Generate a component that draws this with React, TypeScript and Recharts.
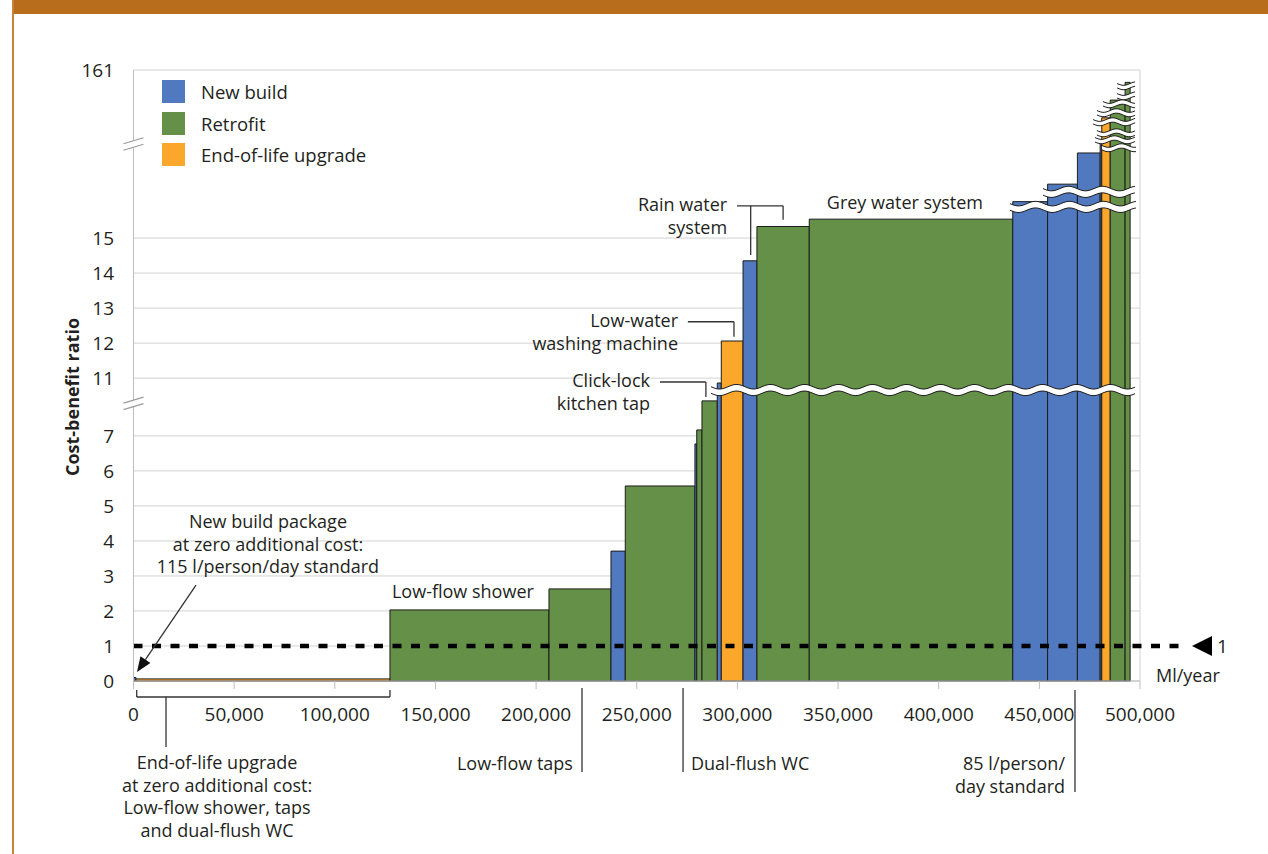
import React from 'react';
import { ComposedChart, XAxis, YAxis, CartesianGrid, ReferenceArea, ReferenceLine, ReferenceDot, Legend } from 'recharts';

const BLUE = '#5079C0';
const GREEN = '#659048';
const ORANGE = '#FBA72C';
const EDGE = '#1c1c1c';
const GRID = '#d2d2d2';
const AXIS = '#bdbdbd';
const INK = '#231f20';
const FONT = '"Open Sans", "Noto Sans", sans-serif';

// measures in cost-curve order
const measureType = ['new', 'eol', 'retro', 'retro', 'new', 'retro', 'new', 'retro', 'retro', 'new', 'eol', 'new', 'retro', 'retro', 'new', 'new', 'new', 'new', 'eol', 'retro', 'retro'];
const measureSaving = [1200, 126200, 79000, 30800, 7100, 34600, 900, 2600, 7600, 2000, 10800, 6900, 26000, 101100, 17300, 14800, 11300, 800, 4200, 7400, 2500];
const measureRatio = [0.1, 0.06, 2.03, 2.63, 3.71, 5.57, 6.77, 7.17, 8.0, 10.86, 12.06, 14.35, 15.33, 15.54, 16.04, 16.54, 17.43, 31, 72, 105, 138];
const typeColor: Record<string, string> = { new: BLUE, retro: GREEN, eol: ORANGE };

const legendNames = ['New build', 'Retrofit', 'End-of-life upgrade'];
const legendColors = [BLUE, GREEN, ORANGE];

const xTicks = [0, 50000, 100000, 150000, 200000, 250000, 300000, 350000, 400000, 450000, 500000];
const yTickValues = [0, 1, 2, 3, 4, 5, 6, 7, 11, 12, 13, 14, 15, 161];

// broken y scale: real value -> drawn position
const scaleRealKnots = [0, 8, 10.35, 17.6, 161];
const scaleDispKnots = [0, 8, 8, 15.25, 17.45];

// wavy breaks drawn across the tall bars
const breakLevel = [10.66, 15.89, 16.32, 17.58, 31.1, 44.1, 64.6, 81.4, 98.1, 113.0, 131.7];
const breakFrom = [286900, 435400, 451800, 481100, 477600, 478600, 476700, 478600, 481600, 488600, 488600];
const breakTo = 498000;
const axisBreakAt = [7.92, 22.8];

// annotations
const noteText = [
  ['New build package', 'at zero additional cost:', '115 l/person/day standard'],
  ['Low-flow shower'],
  ['Rain water', 'system'],
  ['Grey water system'],
  ['Low-water', 'washing machine'],
  ['Click-lock', 'kitchen tap'],
  ['End-of-life upgrade', 'at zero additional cost:', 'Low-flow shower, taps', 'and dual-flush WC'],
  ['Low-flow taps'],
  ['Dual-flush WC'],
  ['85 l/person/', 'day standard'],
  ['Ml/year'],
];
const noteX = [66800, 128400, 294900, 383200, 270500, 256600, 41500, 218300, 276950, 462750, 523800];
const noteY = [4.54, 2.54, 15.95, 16.0, 12.64, 10.92, -2.343, -2.371, -2.371, -2.371, 0.143];
const noteAnchor = ['middle', 'start', 'end', 'middle', 'end', 'end', 'middle', 'end', 'start', 'end', 'middle'];

const leaders = [
  [299800, 15.92, 322700, 15.92], [306600, 15.92, 306600, 14.52], [322700, 15.92, 322700, 15.52],
  [275400, 12.61, 298300, 12.61], [298300, 12.61, 298300, 12.18],
  [261550, 10.89, 284350, 10.89], [284350, 10.89, 284350, 10.46],
  [1600, -0.457, 127400, -0.457], [1600, -0.457, 1600, -0.257], [127400, -0.457, 127400, -0.257], [16150, -0.457, 16150, -1.886],
  [222800, -0.2, 222800, -2.6],
  [273000, -0.2, 273000, -2.6],
  [467700, -0.257, 467700, -3.171],
];
const arrowFrom = [31050, 2.74];
const arrowTo = [1740, 0.257];
const threshold = 1;
const thresholdEnd = 522000;
const thresholdMarkX = 530800;

const toDisplay = (v: number) => {
  if (v <= scaleRealKnots[0]) return v;
  for (let i = 1; i < scaleRealKnots.length; i++) {
    if (v <= scaleRealKnots[i]) {
      const r0 = scaleRealKnots[i - 1], r1 = scaleRealKnots[i];
      const d0 = scaleDispKnots[i - 1], d1 = scaleDispKnots[i];
      return d0 + ((v - r0) / (r1 - r0)) * (d1 - d0);
    }
  }
  const n = scaleRealKnots.length - 1;
  return scaleDispKnots[n] + ((v - scaleRealKnots[n]) * (scaleDispKnots[n] - scaleDispKnots[n - 1])) / (scaleRealKnots[n] - scaleRealKnots[n - 1]);
};

const yTickDisplay = yTickValues.map(toDisplay);

const bars: { start: number; end: number; top: number; color: string }[] = [];
measureSaving.forEach((s, i) => {
  const start = i ? bars[i - 1].end : 0;
  bars.push({ start, end: start + s, top: toDisplay(measureRatio[i]), color: typeColor[measureType[i]] });
});

// white zig-zag band with dark edges
const makeWave = (half: number, amp: number, period: number) => (props: any) => {
  const { x, y, width, height } = props;
  const cy = y + height / 2;
  const top: string[] = [];
  const bot: string[] = [];
  for (let t = 0; t <= width + 0.01; t += 2) {
    const tt = Math.min(t, width);
    const w = amp * Math.sin((tt / period) * Math.PI * 2);
    top.push(`${x + tt},${cy - half + w}`);
    bot.push(`${x + tt},${cy + half + w}`);
  }
  return (
    <g>
      <polygon points={[...top, ...bot.slice().reverse()].join(' ')} fill="#fff" />
      <polyline points={top.join(' ')} fill="none" stroke={EDGE} strokeWidth={1} />
      <polyline points={bot.join(' ')} fill="none" stroke={EDGE} strokeWidth={1} />
    </g>
  );
};
const bigWave = makeWave(3.3, 2.3, 34);
const smallWave = makeWave(2.2, 1.8, 26);

const AxisBreak = (p: any) => {
  const { cx, cy } = p;
  return (
    <g>
      <polygon points={`${cx - 10},${cy - 0.5} ${cx + 10},${cy - 6.5} ${cx + 10},${cy} ${cx - 10},${cy + 6}`} fill="#fff" />
      <line x1={cx - 10} y1={cy - 0.5} x2={cx + 10} y2={cy - 6.5} stroke="#9a9a9a" strokeWidth={1.2} />
      <line x1={cx - 10} y1={cy + 6} x2={cx + 10} y2={cy} stroke="#9a9a9a" strokeWidth={1.2} />
    </g>
  );
};

const makeNote = (lines: string[], anchor: string) => (p: any) => (
  <text x={p.cx} y={p.cy} textAnchor={anchor as any} fontSize={18} fill={INK} fontFamily={FONT}>
    {lines.map((l, i) => (
      <tspan key={i} x={p.cx} dy={i === 0 ? '0.35em' : 22.5}>{l}</tspan>
    ))}
  </text>
);

const ArrowShape = (p: any) => {
  const { x1, y1, x2, y2 } = p;
  const ang = Math.atan2(y2 - y1, x2 - x1);
  const len = 15, hw = 6;
  const bx = x2 - len * Math.cos(ang), by = y2 - len * Math.sin(ang);
  const px = -Math.sin(ang) * hw, py = Math.cos(ang) * hw;
  return (
    <g>
      <line x1={x1} y1={y1} x2={bx} y2={by} stroke="#333" strokeWidth={1.3} />
      <polygon points={`${x2},${y2} ${bx + px},${by + py} ${bx - px},${by - py}`} fill="#111" />
    </g>
  );
};

const ThresholdMark = (p: any) => (
  <g>
    <polygon points={`${p.cx - 10},${p.cy} ${p.cx + 10},${p.cy - 10} ${p.cx + 10},${p.cy + 10}`} fill="#000" />
    <text x={p.cx + 15} y={p.cy} dy="0.35em" fontSize={19} fill={INK} fontFamily={FONT}>{threshold}</text>
  </g>
);

const YTitle = (props: any) => {
  const vb = props.viewBox || { x: 0, y: 70, width: 133.5, height: 611 };
  return (
    <text
      transform={`translate(${vb.x + 73},${vb.y + vb.height / 2 + 21.5}) rotate(-90)`}
      textAnchor="middle"
      dy="0.35em"
      fontSize={18}
      fontWeight={700}
      fill={INK}
      fontFamily={FONT}
    >
      Cost-benefit ratio
    </text>
  );
};

const LegendBox = () => (
  <div style={{ fontFamily: FONT, fontSize: 18.5, color: INK }}>
    {legendNames.map((n, i) => (
      <div key={n} style={{ display: 'flex', alignItems: 'center', height: 23, marginBottom: 8.5 }}>
        <span style={{ width: 23, height: 23, background: legendColors[i], marginRight: 16, display: 'inline-block' }} />
        <span>{n}</span>
      </div>
    ))}
  </div>
);

export default function App() {
  return (
    <div style={{ position: 'absolute', left: 0, top: 0, width: 1268, height: 854, background: '#fff' }}>
      <div style={{ position: 'absolute', left: 12, top: 0, width: 1256, height: 14, background: '#B76D1B' }} />
      <div style={{ position: 'absolute', left: 12, top: 0, width: 2, height: 854, background: '#C9823A' }} />
      <div style={{ position: 'absolute', left: 0, top: 0 }}>
        <ComposedChart width={1268} height={854} margin={{ top: 70, right: 128, bottom: 0, left: 0 }} style={{ fontFamily: FONT }}>
          <CartesianGrid vertical={false} stroke={GRID} />
          <XAxis
            type="number"
            dataKey="x"
            domain={[0, 500000]}
            ticks={xTicks}
            interval={0}
            allowDataOverflow
            tickFormatter={(v: number) => v.toLocaleString('en-US')}
            tickSize={8}
            tickMargin={19}
            height={173}
            stroke={AXIS}
            tick={{ fill: INK, fontSize: 19 }}
          />
          <YAxis
            type="number"
            domain={[0, scaleDispKnots[scaleDispKnots.length - 1]]}
            ticks={yTickDisplay}
            interval={0}
            allowDataOverflow
            tickFormatter={(d: number) => {
              const i = yTickDisplay.findIndex((t) => Math.abs(t - d) < 1e-6);
              return i >= 0 ? String(yTickValues[i]) : '';
            }}
            tickLine={false}
            tickSize={6}
            tickMargin={13.5}
            width={133.5}
            stroke={AXIS}
            tick={{ fill: INK, fontSize: 19 }}
            label={<YTitle />}
          />
          <ReferenceLine x={500000} stroke={GRID} />
          {bars.map((b, i) => (
            <ReferenceArea
              key={`bar-${i}`}
              x1={b.start}
              x2={b.end}
              y1={0}
              y2={b.top}
              fill={b.color}
              fillOpacity={1}
              stroke={EDGE}
              strokeWidth={1}
              ifOverflow="visible"
            />
          ))}
          {breakLevel.map((lv, i) => (
            <ReferenceArea
              key={`brk-${i}`}
              x1={breakFrom[i]}
              x2={breakTo}
              y1={toDisplay(lv) - 0.1}
              y2={toDisplay(lv) + 0.1}
              ifOverflow="visible"
              shape={i < 3 ? bigWave : smallWave}
            />
          ))}
          <ReferenceLine
            segment={[{ x: 0, y: toDisplay(threshold) }, { x: thresholdEnd, y: toDisplay(threshold) }]}
            stroke="#000"
            strokeWidth={4.5}
            strokeDasharray="9 9.5"
            ifOverflow="visible"
          />
          {leaders.map((s, i) => (
            <ReferenceLine
              key={`ld-${i}`}
              segment={[{ x: s[0], y: toDisplay(s[1]) }, { x: s[2], y: toDisplay(s[3]) }]}
              stroke="#333"
              strokeWidth={1.3}
              ifOverflow="visible"
            />
          ))}
          <ReferenceLine
            segment={[{ x: arrowFrom[0], y: toDisplay(arrowFrom[1]) }, { x: arrowTo[0], y: toDisplay(arrowTo[1]) }]}
            ifOverflow="visible"
            shape={ArrowShape}
          />
          <ReferenceDot x={thresholdMarkX} y={toDisplay(threshold)} ifOverflow="visible" shape={ThresholdMark} />
          {noteText.map((lines, i) => (
            <ReferenceDot
              key={`nt-${i}`}
              x={noteX[i]}
              y={toDisplay(noteY[i])}
              ifOverflow="visible"
              shape={makeNote(lines, noteAnchor[i])}
            />
          ))}
          {axisBreakAt.map((v, i) => (
            <ReferenceDot key={`ab-${i}`} x={0} y={toDisplay(v)} ifOverflow="visible" shape={AxisBreak} />
          ))}
          <Legend
            content={<LegendBox />}
            layout="vertical"
            align="center"
            verticalAlign="middle"
            wrapperStyle={{ left: 162, top: 80, width: 'auto' }}
          />
        </ComposedChart>
      </div>
    </div>
  );
}
